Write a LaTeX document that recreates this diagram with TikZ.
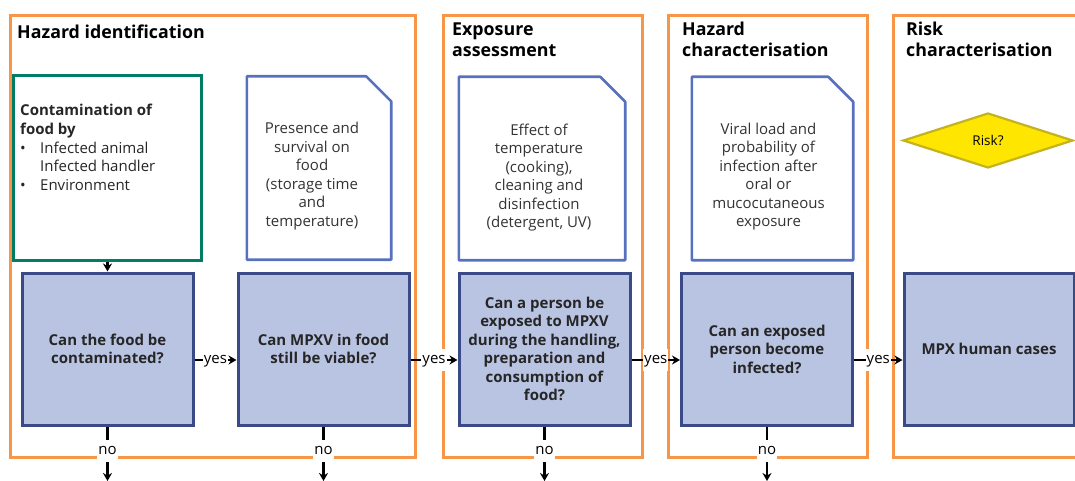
\documentclass[tikz,border=0pt]{standalone}
\usepackage{fontspec}
\setmainfont{Open Sans}
\usetikzlibrary{arrows.meta,positioning,calc,shapes.geometric}
\definecolor{panelor}{RGB}{247,150,70}
\definecolor{srcgreen}{RGB}{0,125,100}
\definecolor{docblue}{RGB}{88,112,192}
\definecolor{quesfill}{RGB}{185,196,227}
\definecolor{quesline}{RGB}{58,74,135}
\definecolor{riskfill}{RGB}{255,230,0}
\definecolor{riskline}{RGB}{196,178,30}

\begin{document}
\begin{tikzpicture}[x=1pt, y=-1pt, font=\fontsize{15}{18.5}\selectfont,
  panel/.style={draw=panelor, line width=3pt},
  title/.style={anchor=base west, align=left, inner sep=0pt, font=\fontsize{17.8}{21}\selectfont\bfseries},
  ques/.style={draw=quesline, fill=quesfill, line width=3pt, minimum width=171pt, minimum height=152pt,
    align=center, text=black!85, font=\fontsize{15}{18.5}\selectfont\bfseries},
  docbox/.style={minimum height=183pt},
  doctext/.style={align=center, text=black!80},
  docline/.style={draw=docblue, line width=2.6pt, line join=round},
  src/.style={draw=srcgreen, line width=3pt, minimum width=188pt, minimum height=184pt},
  risk/.style={diamond, draw=riskline, fill=riskfill, line width=2.2pt, minimum width=170pt, minimum height=55pt,
    inner sep=0pt, font=\fontsize{13.5}{15}\selectfont},
  arr/.style={-{Stealth[length=8pt,width=9pt]}, line width=2.7pt},
  lbl/.style={fill=white, inner xsep=1pt, text height=9pt, text depth=3pt, inner ysep=5pt}]
\useasboundingbox (0,0) rectangle (1075,481);
\clip (0,0) rectangle (1075,481);

% stages
\draw[panel] (10,16) rectangle (415,457);
\draw[panel] (443,16) rectangle (642,457);
\draw[panel] (668,16) rectangle (867,457);
\draw[panel] (1085,16) -- (893,16) -- (893,457) -- (1085,457);
\node[title] (t1) at (17,39) {Hazard identification};
\node[title] (t2) at (452,57) {Exposure\\assessment};
\node[title] (t3) at (682,57) {Hazard\\characterisation};
\node[title] (t4) at (906,57) {Risk\\characterisation};

% source of contamination
\node[src] (g) at (107.5,168) {};
\node[anchor=base west, align=left, inner sep=0pt, text=black!85] (gt) at (20,190)
  {\textbf{Contamination of}\\\textbf{food by}\\
   \makebox[20pt][l]{\textbullet}Infected animal\\
   \makebox[20pt][l]{}Infected handler\\
   \makebox[20pt][l]{\textbullet}Environment};

% documents
\node[docbox, minimum width=144pt] (d1) at (319,168) {};
\node[docbox, minimum width=166pt] (d2) at (542,168.5) {};
\node[docbox, minimum width=161pt] (d3) at (772.5,168.5) {};
\foreach \d in {d1,d2,d3}
  \draw[docline] (\d.north west) -- ($(\d.north east)+(-25,0)$) -- ($(\d.north east)+(0,25)$)
    -- (\d.south east) -- (\d.south west) -- cycle;
\node[doctext] (d1t) at ($(d1)+(-7,8)$) {Presence and\\survival on\\food\\(storage time\\and\\temperature)};
\node[doctext] (d2t) at ($(d2)+(-3,9)$) {Effect of\\temperature\\(cooking),\\cleaning and\\disinfection\\(detergent, UV)};
\node[doctext] (d3t) at ($(d3)+(-4,8)$) {Viral load and\\probability of\\infection after\\oral or\\mucocutaneous\\exposure};

\node[risk] (r) at (988,140.5) {Risk?};

% questions
\node[ques] (q1) at (107.5,349) {Can the food be\\contaminated?};
\node[ques] (q2) at (323.5,349) {Can MPXV in food\\still be viable?};
\node[ques] (q3) at (544.5,349) {Can a person be\\exposed to MPXV\\during the handling,\\preparation and\\consumption of\\food?};
\node[ques] (q4) at (767,349) {Can an exposed\\person become\\infected?};
\node[ques, minimum width=170pt] (q5) at (989,349) {MPX human cases};

% flow
\coordinate (yes) at (0,360);
\coordinate (bot) at (0,481);
\draw[arr] (g.south) -- (q1.north);
\foreach \a/\b in {q1/q2,q2/q3,q3/q4,q4/q5}
  \draw[arr] (\a.east |- yes) -- node[lbl] {yes} (\b.west |- yes);
\foreach \q in {q1,q2,q3,q4}
  \draw[arr] (\q.south) -- node[lbl, pos=0.45] {no} (\q.south |- bot);
\end{tikzpicture}
\end{document}
